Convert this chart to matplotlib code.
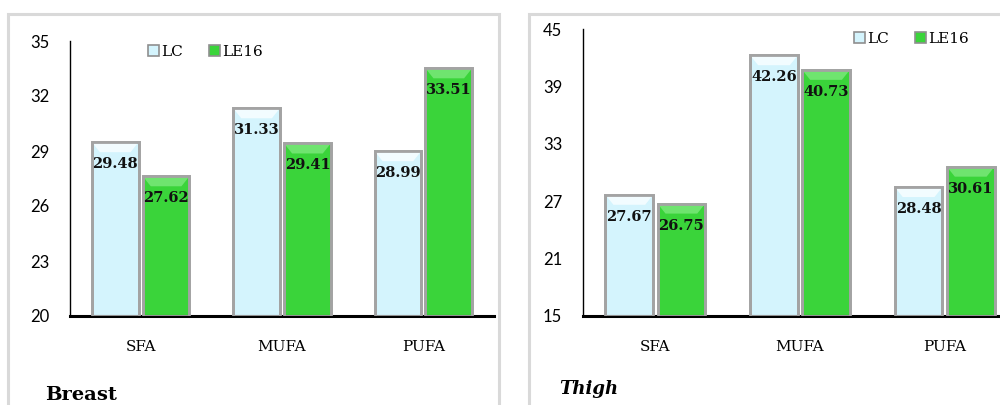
import matplotlib
matplotlib.use("Agg")
import matplotlib.pyplot as plt
from matplotlib.patches import Patch, Polygon, Rectangle

# fatty acid groups, % of total fatty acids
categories = ["SFA", "MUFA", "PUFA"]
series_names = ["LC", "LE16"]

breast_lc = [29.48, 31.33, 28.99]
breast_le16 = [27.62, 29.41, 33.51]
breast_ticks = [20, 23, 26, 29, 32, 35]

thigh_lc = [27.67, 42.26, 28.48]
thigh_le16 = [26.75, 40.73, 30.61]
thigh_ticks = [15, 21, 27, 33, 39, 45]

face = {"LC": "#d4f4fd", "LE16": "#3ad43a"}
top_face = {"LC": "#f2fcff", "LE16": "#6fe46f"}
edge = "#a3a3a3"
serif = "DejaVu Serif"
sans = "Lato"

W, H = 1000, 405
fig = plt.figure(figsize=(W / 100, H / 100), dpi=100)


def px(x0, y0, x1, y1):
    # pixel box (top-left origin) -> figure fraction rect
    return [x0 / W, 1 - y1 / H, (x1 - x0) / W, (y1 - y0) / H]


def panel(rect, lc, le16, ticks, title, title_xy, title_style, legend_xy):
    ax = fig.add_axes(rect)
    ax.set_xlim(-0.5, 2.5)
    ax.set_ylim(ticks[0], ticks[-1])
    ax.set_yticks(ticks)
    ax.set_xticks(range(len(categories)))
    ax.set_xticklabels(categories, fontfamily=serif, fontsize=11)
    for lab in ax.get_yticklabels():
        lab.set_fontfamily(sans)
        lab.set_fontsize(12)
    ax.tick_params(axis="y", length=0, pad=15)
    ax.tick_params(axis="x", length=0, pad=17)
    for s in ["top", "right"]:
        ax.spines[s].set_visible(False)
    ax.spines["left"].set_linewidth(1.0)
    ax.spines["bottom"].set_linewidth(2.2)
    ax.set_facecolor("none")

    # pixel -> data unit conversions for the bevel on top of each bar
    bbox = ax.get_position()
    unit_y = (ticks[-1] - ticks[0]) / (bbox.height * H)
    unit_x = 3.0 / (bbox.width * W)

    width = 0.33
    for off, name, vals in [(-0.18, "LC", lc), (0.18, "LE16", le16)]:
        xs = [i + off for i in range(len(vals))]
        ax.bar(xs, vals, width=width, bottom=0, color=face[name],
               edgecolor=edge, linewidth=2, zorder=2)
        for x, v in zip(xs, vals):
            x0, x1 = x - width / 2, x + width / 2
            h = 10 * unit_y
            ins = 8 * unit_x
            ax.add_patch(Polygon([(x0, v), (x1, v), (x1 - ins, v - h), (x0 + ins, v - h)],
                                 closed=True, facecolor=top_face[name],
                                 edgecolor="none", zorder=3))
            ax.add_patch(Rectangle((x0, ticks[0]), width, v - ticks[0], fill=False,
                                   edgecolor=edge, linewidth=2, zorder=4))
            ax.annotate(f"{v:.2f}", (x, v), xytext=(0, -22), textcoords="offset pixels",
                        ha="center", va="center", fontfamily=serif, fontweight="bold",
                        fontsize=10.5, color="#111111", zorder=5)

    handles = [Patch(facecolor=face[n], edgecolor="#8f8f8f", linewidth=1.2, label=n)
               for n in series_names]
    fig.legend(handles=handles, loc="center left",
               bbox_to_anchor=(legend_xy[0] / W, 1 - legend_xy[1] / H),
               ncol=2, frameon=False, handlelength=0.75, handleheight=0.75,
               handletextpad=0.1, columnspacing=1.7, borderpad=0, borderaxespad=0,
               prop={"family": serif, "size": 11})

    fig.text(title_xy[0] / W, 1 - title_xy[1] / H, title, fontfamily=serif,
             fontsize=14 if title_style == "normal" else 13, fontweight="bold",
             fontstyle=title_style, ha="left", va="center")
    return ax


# light gray chart frames
for x0, x1 in [(8, 499), (529, 1010)]:
    fig.add_artist(Rectangle((x0 / W, -0.1), (x1 - x0) / W, 1.1 - 14 / H,
                             transform=fig.transFigure, fill=False,
                             edgecolor="#d9d9d9", linewidth=2.2, clip_on=False))

panel(px(70, 41, 494, 316), breast_lc, breast_le16, breast_ticks,
      "Breast", (45, 395), "normal", (148, 52))
panel(px(583, 29, 1017, 316), thigh_lc, thigh_le16, thigh_ticks,
      "Thigh", (559, 389), "italic", (854, 39))

fig.savefig("out.png", dpi=100)
